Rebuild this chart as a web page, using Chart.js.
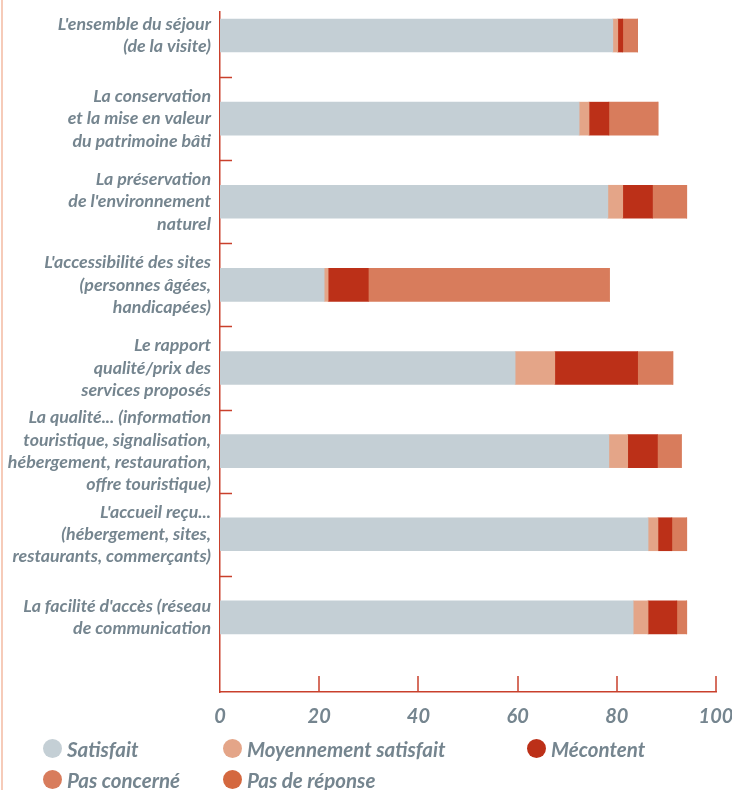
<!DOCTYPE html>
<html>
<head>
<meta charset="utf-8">
<script src="https://cdn.jsdelivr.net/npm/chart.js@4/dist/chart.umd.min.js"></script>
<style>
  html, body { margin:0; padding:0; background:#fff; }
  #wrap { position:relative; width:732px; height:790px; }
  #wrap::before { content:''; position:absolute; left:1px; top:0; bottom:0; width:2px; background:#f6cbb9; }
  #legend {
    position:absolute; left:43px; top:733px;
    display:grid; grid-template-columns:180px 304px auto; grid-auto-rows:31px;
    font-family:Lato,sans-serif;
    font-style:italic; font-weight:bold; font-size:20.5px; color:#75858f;
  }
  #legend .item { display:flex; align-items:center; white-space:nowrap; }
  #legend .dot { width:19px; height:19px; border-radius:50%; margin-right:5px; flex:none; }
</style>
</head>
<body>
<div id="wrap">
  <canvas id="chart" width="732" height="790"></canvas>
  <div id="legend"></div>
</div>
<script>
// ── Data ──
const categories = [
  ["L'ensemble du séjour", "(de la visite)"],
  ["La conservation", "et la mise en valeur", "du patrimoine bâti"],
  ["La préservation", "de l'environnement", "naturel"],
  ["L'accessibilité des sites", "(personnes âgées,", "handicapées)"],
  ["Le rapport", "qualité/prix des", "services proposés"],
  ["La qualité... (information", "touristique, signalisation,", "hébergement, restauration,", "offre touristique)"],
  ["L'accueil reçu...", "(hébergement, sites,", "restaurants, commerçants)"],
  ["La facilité d'accès (réseau", "de communication"]
];
const seriesNames = ['Satisfait','Moyennement satisfait','Mécontent','Pas concerné','Pas de réponse'];
const seriesColors = ['#c4cfd5','#e4a588','#bc3018','#d87c5c','#d4683f'];

const satisfait   = [79.2, 72.4, 78.2, 21.0, 59.5, 78.4, 86.3, 83.3];
const moyennement = [1.0,  2.0,  3.0,  0.8,  8.0,  3.8,  2.0,  3.0];
const mecontent   = [1.0,  4.0,  6.0,  8.1,  16.7, 6.0,  2.8,  5.8];
const pasConcerne = [3.0,  9.9,  6.9,  48.6, 7.1,  4.8,  3.0,  2.0];
const pasReponse  = [0,    0,    0,    0,    0,    0,    0,    0];
const xTicks = [0, 20, 40, 60, 80, 100];

const allSeries = [satisfait, moyennement, mecontent, pasConcerne, pasReponse];

const textColor = '#75858f';
const axisColor = '#c9402c';
const fontFamily = 'Lato, sans-serif';

// ── Inward tick marks ──
const innerTicks = {
  id:'innerTicks',
  afterDraw(chart){
    const {ctx, chartArea:a, scales:{x, y}} = chart;
    ctx.save();
    ctx.strokeStyle = axisColor;
    ctx.lineWidth = 1.5;
    ctx.beginPath();
    for(let i=0;i<categories.length-1;i++){
      const py = Math.round(y.getPixelForValue(i+0.5)) + 0.5;
      ctx.moveTo(a.left, py); ctx.lineTo(a.left+12, py);
    }
    xTicks.forEach(v=>{
      if(v===0) return;
      const px = Math.round(x.getPixelForValue(v));
      ctx.moveTo(px, a.bottom); ctx.lineTo(px, a.bottom-16);
    });
    ctx.stroke();
    ctx.restore();
  }
};

const ctx = document.getElementById('chart').getContext('2d');
const chart = new Chart(ctx, {
  type:'bar',
  data:{
    datasets: allSeries.map((s,k)=>({
      label: seriesNames[k],
      data: s.map((v,i)=>({x:v, y:i})),
      backgroundColor: seriesColors[k],
      borderWidth:0,
      barThickness:33
    }))
  },
  options:{
    indexAxis:'y',
    responsive:false,
    animation:false,
    layout:{ padding:{ top:12, right:16, bottom:58, left:0 } },
    plugins:{ legend:{ display:false } },
    scales:{
      x:{
        type:'linear', min:0, max:100, stacked:true,
        afterBuildTicks: s => { s.ticks = xTicks.map(v=>({value:v})); },
        afterFit: s => { s.height = 40; s.paddingLeft = 0; s.paddingRight = 0; },
        grid:{ display:false, drawTicks:false },
        border:{ display:true, color:axisColor, width:1.5 },
        ticks:{ color:textColor, padding:13, font:{ family:fontFamily, size:20, style:'italic', weight:'bold' } }
      },
      y:{
        type:'linear', reverse:true, min:-0.283, max:7.898, stacked:true,
        offset:false, bounds:'data',
        afterBuildTicks: s => { s.ticks = categories.map((c,i)=>({value:i})); },
        afterFit: s => { s.width = 220; s.paddingTop = 0; s.paddingBottom = 0; },
        grid:{ display:false, drawTicks:false, offset:false },
        border:{ display:true, color:axisColor, width:1.5 },
        ticks:{
          color:textColor, padding:9, autoSkip:false,
          font:{ family:fontFamily, size:17.8, style:'italic', weight:'bold', lineHeight:1.26 },
          callback: v => categories[v] || ''
        }
      }
    }
  },
  plugins:[innerTicks]
});

// ── Legend ──
const legendEl = document.getElementById('legend');
chart.data.datasets.forEach(ds=>{
  const item = document.createElement('div');
  item.className = 'item';
  item.innerHTML = '<span class="dot" style="background:'+ds.backgroundColor+'"></span>' + ds.label;
  legendEl.appendChild(item);
});
</script>
</body>
</html>
